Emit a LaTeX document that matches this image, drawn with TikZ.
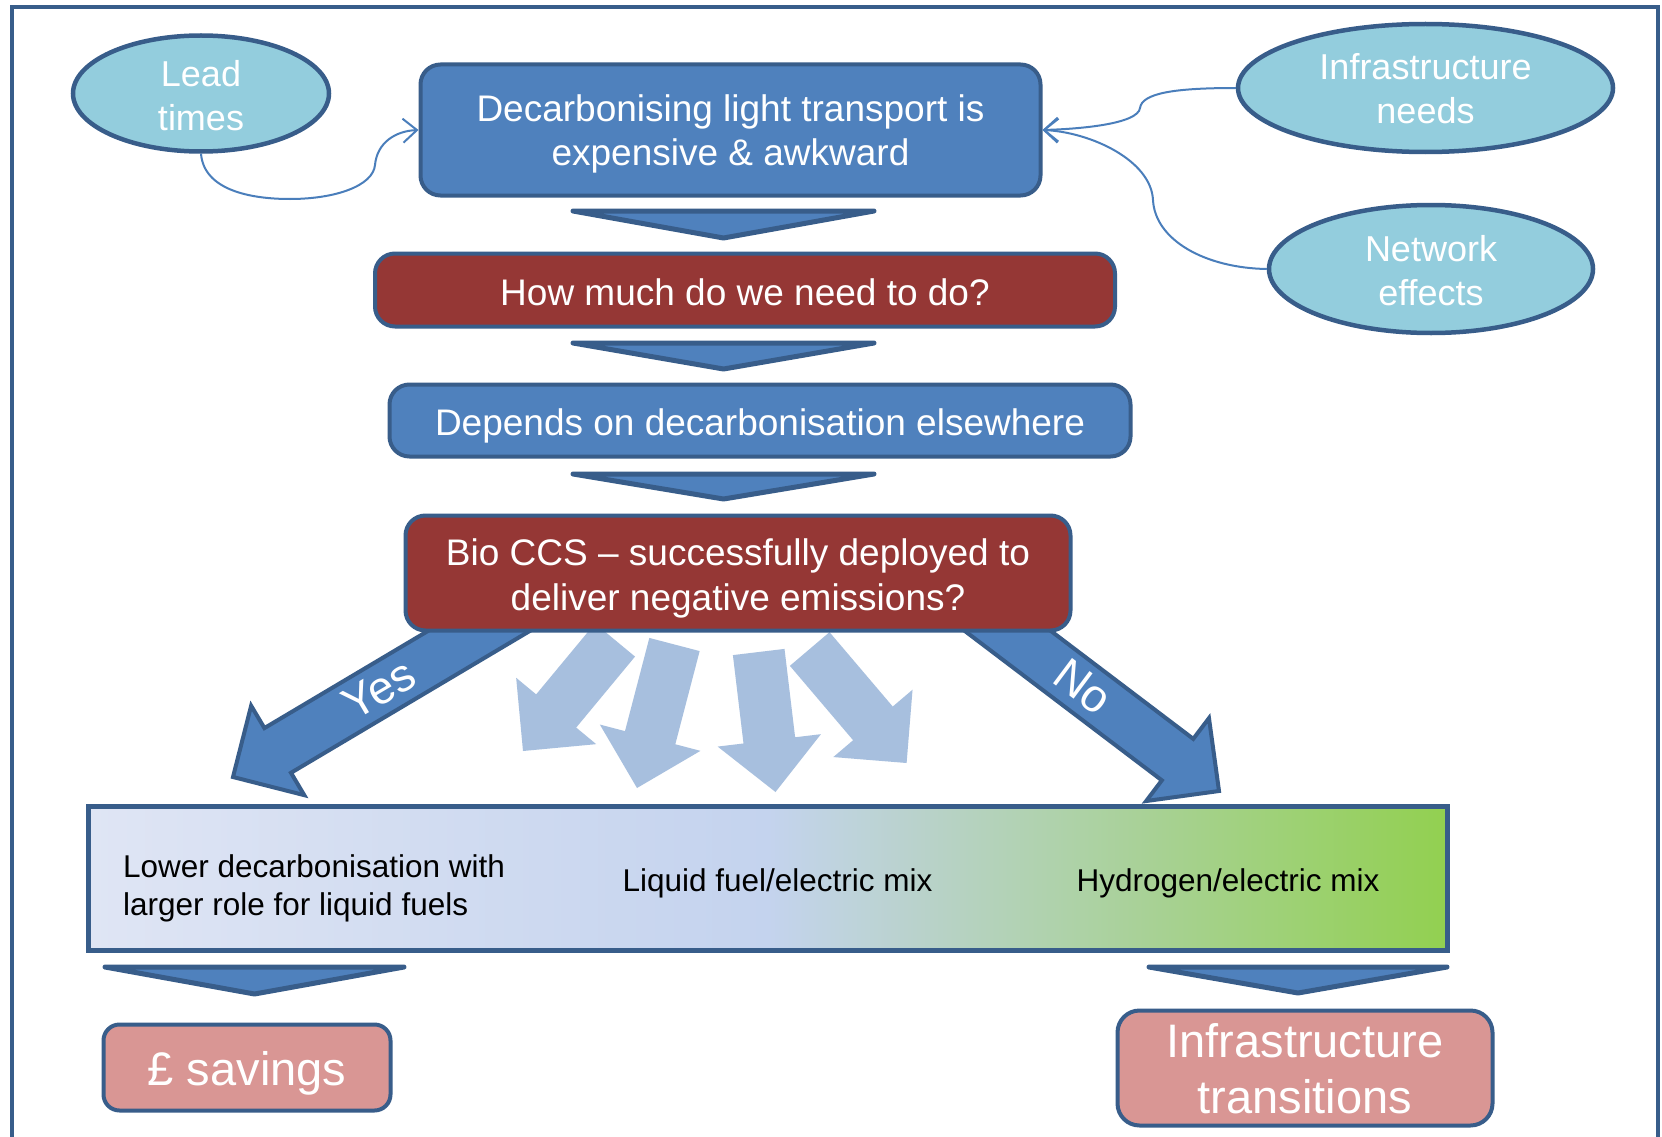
\documentclass[tikz,border=0pt]{standalone}
\usepackage{fontspec}
\setmainfont{Liberation Sans}
\usetikzlibrary{shapes.geometric,calc,arrows.meta}
\definecolor{boxblue}{HTML}{4F81BD}
\definecolor{edgeblue}{HTML}{385D8A}
\definecolor{boxred}{HTML}{953735}
\definecolor{ellfill}{HTML}{93CDDD}
\definecolor{pinkfill}{HTML}{D99694}
\definecolor{paleblue}{HTML}{A7BFDE}
\definecolor{linkblue}{HTML}{4A7EBB}
\definecolor{barleft}{HTML}{DFE5F4}
\definecolor{barmid}{HTML}{C4D3EE}
\definecolor{bargreen}{HTML}{92D050}
\newcommand\blockarrow[3]{%
  \coordinate (ba-s) at #2;
  \coordinate (ba-e) at #3;
  \coordinate (ba-b) at ($(ba-e)!52pt!(ba-s)$);
  \path[#1] ($(ba-s)!26pt!90:(ba-e)$) -- ($(ba-b)!26pt!90:(ba-e)$) -- ($(ba-b)!52pt!90:(ba-e)$) -- (ba-e) -- ($(ba-b)!52pt!-90:(ba-e)$) -- ($(ba-b)!26pt!-90:(ba-e)$) -- ($(ba-s)!26pt!-90:(ba-e)$) -- cycle;
}
\tikzset{
  bluebox/.style={draw=edgeblue, line width=4pt, fill=boxblue, rounded corners=20pt, text=white,
    font=\fontsize{37}{44.4}\selectfont, align=center, inner sep=0pt, text depth=0pt},
  redbox/.style={bluebox, fill=boxred},
  pinkbox/.style={bluebox, fill=pinkfill, font=\fontsize{47}{56}\selectfont},
  ellnode/.style={ellipse, draw=edgeblue, line width=4.5pt, fill=ellfill, text=white,
    font=\fontsize{36}{44}\selectfont, align=center, inner sep=0pt, text depth=0pt},
  link/.style={draw=linkblue, line width=2pt, -{Straight Barb[length=14pt,width=24pt]}},
  chevron/.style={draw=edgeblue, fill=boxblue, line width=5pt, line join=round, line cap=round},
  bigarrow/.style={draw=edgeblue, fill=boxblue, line width=4pt, line join=miter},
  palearrow/.style={fill=paleblue},
  bartext/.style={font=\fontsize{31.5}{37.8}\selectfont, text=black, inner sep=0pt},
  arrowlabel/.style={text=white, font=\fontsize{46}{50}\selectfont, inner sep=0pt}
}
\begin{document}
\begin{tikzpicture}[x=1pt, y=-1pt]
\useasboundingbox (0,0) rectangle (1662,1137);
\clip (0,0) rectangle (1662,1137);
\fill[white] (0,0) rectangle (1662,1137);
% frame
\draw[edgeblue, line width=4pt] (12,7) rectangle (1658,1170);

% ellipses
\node[ellnode, text height=74.4pt, minimum width=256pt, minimum height=116pt] (lead) at (201,93.5) {Lead\\times};
\node[ellnode, text height=70.6pt, minimum width=375pt, minimum height=128pt] (infra) at (1425.5,88) {Infrastructure\\needs};
\node[ellnode, text height=72pt, minimum width=324pt, minimum height=128pt] (net) at (1431,269) {Network\\effects};

% top box
\node[bluebox, text height=71pt, minimum width=620pt, minimum height=131pt] (box1) at (730.5,130)
  {Decarbonising light transport is\\expensive \& awkward};

% connectors
\draw[link] (lead.south) .. controls (204,190) and (250,199) .. (290,199)
  .. controls (335,199) and (373,186) .. (375,165)
  .. controls (377,143) and (395,131) .. (box1.west);
\draw[link] (infra.west) .. controls (1175,88) and (1142,93) .. (1140,108)
  .. controls (1138,124) and (1080,129) .. (box1.east);
\draw[link] (net.west) .. controls (1205,268) and (1155,240) .. (1153,200)
  .. controls (1151,160) and (1090,132) .. (box1.east);

% chevrons
\draw[chevron] (573,211) -- (874,211) -- (723.5,238) -- cycle;
\draw[chevron] (573,343) -- (874,343) -- (723.5,369) -- cycle;
\draw[chevron] (573,474) -- (874,474) -- (723.5,499) -- cycle;

\node[redbox, text height=31.4pt, minimum width=740pt, minimum height=73pt] (box2) at (745,290) {How much do we need to do?};
\node[bluebox, text height=29pt, minimum width=741pt, minimum height=72pt] (box3) at (760,420.5) {Depends on decarbonisation elsewhere};

% block arrows
\blockarrow{bigarrow}{(531,600)}{(233,777)}
\blockarrow{bigarrow}{(967,600)}{(1219,791)}
\blockarrow{palearrow}{(615,640)}{(523,751)}
\blockarrow{palearrow}{(674.5,644.5)}{(637,788)}
\blockarrow{palearrow}{(758.7,652)}{(775.5,792)}
\blockarrow{palearrow}{(809.7,649)}{(906.6,763)}

\node[redbox, text height=74pt, minimum width=665pt, minimum height=115pt] (box4) at (738,573)
  {Bio CCS -- successfully deployed to\\deliver negative emissions?};

\node[arrowlabel, rotate=30.6] (yes) at (379,689) {Yes};
\node[arrowlabel, rotate=-36.8] (no) at (1083,687) {No};

% gradient bar
\node[draw=edgeblue, line width=5pt, left color=barleft, right color=bargreen, middle color=barmid,
  minimum width=1359pt, minimum height=144pt, inner sep=0pt] (bar) at (768,878.5) {};
\node[bartext, anchor=west, align=left] (t1) at (123,888.5) {Lower decarbonisation with\\larger role for liquid fuels};
\node[bartext] (t2) at (777.5,883) {Liquid fuel/electric mix};
\node[bartext] (t3) at (1228,883) {Hydrogen/electric mix};

% bottom chevrons
\draw[chevron] (105,967) -- (404,967) -- (254.5,994) -- cycle;
\draw[chevron] (1149,967) -- (1447,967) -- (1298,993) -- cycle;

% outcome boxes
\node[pinkbox, text height=35pt, rounded corners=16pt, minimum width=287pt, minimum height=86pt] (save) at (247,1067.5) {£ savings};
\node[pinkbox, text height=90.6pt, rounded corners=22pt, minimum width=375pt, minimum height=115pt] (trans) at (1305,1068) {Infrastructure\\transitions};
\end{tikzpicture}
\end{document}
